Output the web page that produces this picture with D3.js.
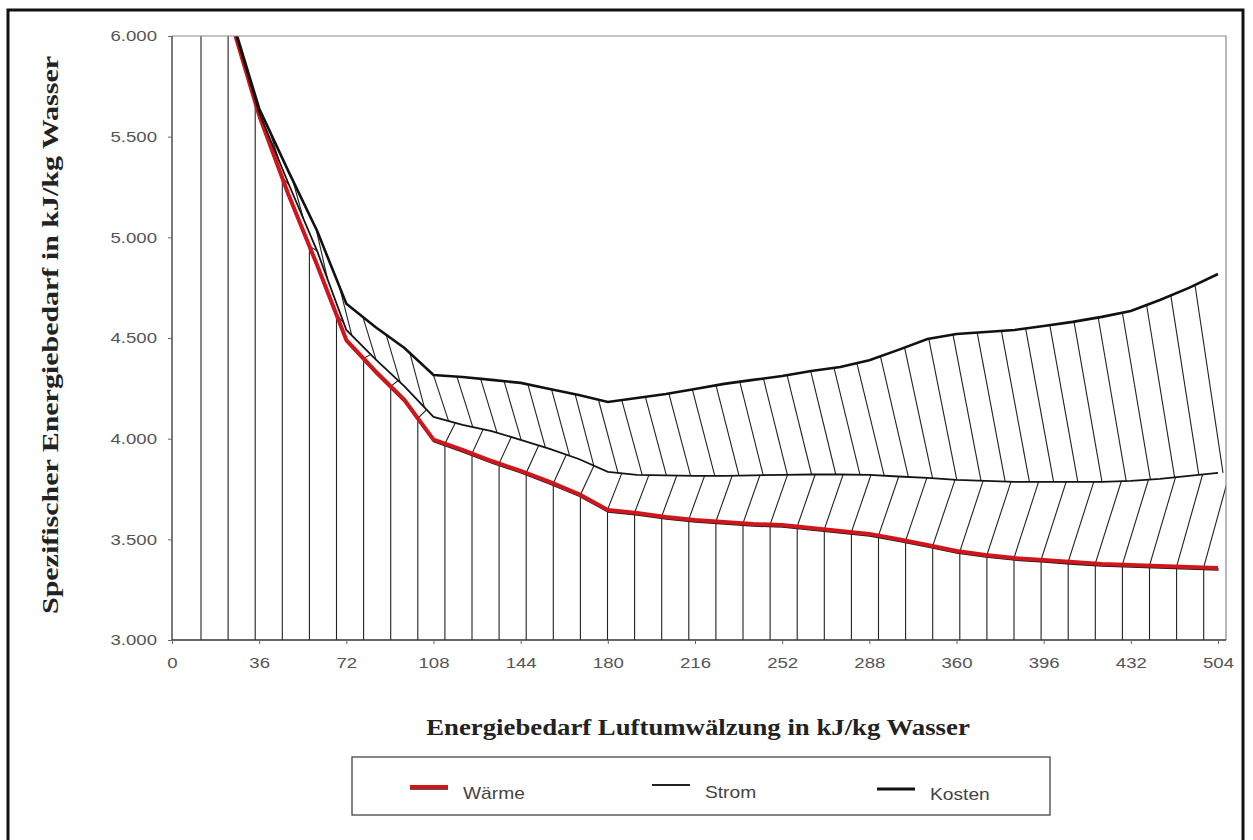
<!DOCTYPE html>
<html>
<head>
<meta charset="utf-8">
<script src="https://cdn.jsdelivr.net/npm/d3@7"></script>
<style>
  body { margin: 0; background: #fff; }
  svg { display: block; }
  .tick-label { font-family: "Liberation Sans", Arial, sans-serif; font-size: 15.5px; fill: #555; }
  .title { font-family: "Liberation Serif", "Times New Roman", serif; font-weight: bold; fill: #222; }
  .legend-label { font-family: "Liberation Sans", Arial, sans-serif; font-size: 16px; fill: #444; }
</style>
</head>
<body>
<div id="chart"></div>
<script>
/* Data ***********************************************************************/

// category labels along the x axis, one every 3 data points
var xTickLabels = ['0', '36', '72', '108', '144', '180', '216', '252',
                   '288', '360', '396', '432', '504'];
var pointsPerLabel = 3;

var yTicks = [3000, 3500, 4000, 4500, 5000, 5500, 6000];

// kJ/kg Wasser (first points lie above 6.000 and are cut off)
var waerme = [7300, 6650, 6090, 5605, 5215, 4860, 4490, 4335, 4192, 3995,
              3944, 3889, 3840, 3785, 3725, 3646, 3631, 3611, 3596, 3586,
              3576, 3571, 3556, 3541, 3527, 3500, 3472, 3442, 3422, 3407,
              3397, 3387, 3378, 3373, 3368, 3363, 3358];

var strom  = [7200, 6600, 6100, 5620, 5270, 4930, 4540, 4395, 4260, 4108,
              4068, 4038, 3994, 3949, 3899, 3835, 3820, 3818, 3815, 3815,
              3818, 3820, 3822, 3822, 3820, 3812, 3805, 3795, 3790, 3785,
              3785, 3785, 3785, 3790, 3800, 3815, 3830];

var kosten = [7400, 6750, 6115, 5640, 5330, 5030, 4670, 4555, 4450, 4316,
              4306, 4292, 4277, 4247, 4217, 4182, 4202, 4222, 4247, 4272,
              4292, 4311, 4336, 4356, 4390, 4441, 4495, 4520, 4530, 4540,
              4560, 4580, 4605, 4634, 4689, 4749, 4818];

var seriesNames = ['Wärme', 'Strom', 'Kosten'];

/* Layout *********************************************************************/

var width = 1253, height = 840;
var plot = { left: 172, right: 1226, top: 36, bottom: 640 },
    lastX = 1218;

var nPoints = waerme.length;

var x = d3.scaleLinear().domain([0, nPoints - 1]).range([plot.left, lastX]);
var y = d3.scaleLinear().domain([3000, 6000]).range([plot.bottom, plot.top]);

var de = d3.formatLocale({ decimal: ',', thousands: '.', grouping: [3], currency: ['', ' €'] });

var svg = d3.select('#chart').append('svg')
    .attr('width', width)
    .attr('height', height);

// outer frame
svg.append('rect')
    .attr('x', 8).attr('y', 10)
    .attr('width', 1235).attr('height', 850)
    .attr('fill', 'none')
    .attr('stroke', '#111')
    .attr('stroke-width', 3);

svg.append('clipPath').attr('id', 'clip')
  .append('rect')
    .attr('x', plot.left).attr('y', plot.top)
    .attr('width', plot.right - plot.left)
    .attr('height', plot.bottom - plot.top);

// value of a series at pixel position px (linear between data points)
function valueAt(series, px) {
    let t = Math.max(0, Math.min(nPoints - 1, x.invert(px))),
        i = Math.min(nPoints - 2, Math.floor(t)),
        f = t - i;
    return series[i] * (1 - f) + series[i + 1] * f;
}

/* Hatching *******************************************************************/

let hatch = svg.append('g')
    .attr('clip-path', 'url(#clip)')
    .attr('fill', 'none')
    .attr('stroke', '#222')
    .attr('stroke-width', 1.1);

let line = d3.line();

// vertical lines under Wärme, bending into "/" up to Strom
for (let hx = 201; hx <= lastX + 2; hx += 27.1) {
    let yw = y(valueAt(waerme, hx)),
        dy = yw - y(valueAt(strom, hx)),
        d1 = Math.min(26, 4 + 0.27 * dy),
        pts = [[hx, plot.bottom], [hx, yw]];
    if (dy > 1)
        pts.push([hx + d1, y(valueAt(strom, hx + d1))]);
    hatch.append('path').attr('d', line(pts));
}

// "\" lines between Strom and Kosten
for (let xb = 255; xb <= plot.right + 4; xb += 24.2) {
    let ys = y(valueAt(strom, xb)),
        dy = ys - y(valueAt(kosten, xb));
    if (dy < 2) continue;
    let d2 = Math.min(28, 8 + 0.16 * dy),
        xt = xb - d2;
    hatch.append('path')
        .attr('d', line([[xb, ys], [xt, y(valueAt(kosten, xt))]]));
}

/* Series lines ***************************************************************/

let lines = svg.append('g').attr('clip-path', 'url(#clip)').attr('fill', 'none');
let path = d3.line().x((d, i) => x(i)).y(d => y(d));

lines.append('path')
    .attr('d', path(waerme))
    .attr('transform', 'translate(0.5,1.5)')
    .attr('stroke', '#1a1a1a').attr('stroke-width', 2.6);
lines.append('path')
    .attr('d', path(waerme))
    .attr('stroke', '#d0151d').attr('stroke-width', 4)
    .attr('stroke-linejoin', 'round');
lines.append('path')
    .attr('d', path(strom))
    .attr('stroke', '#151515').attr('stroke-width', 1.8);
lines.append('path')
    .attr('d', path(kosten))
    .attr('stroke', '#111').attr('stroke-width', 2.6);

/* Plot frame & axes **********************************************************/

svg.append('path')
    .attr('d', line([[plot.left, plot.top], [plot.right, plot.top], [plot.right, plot.bottom]]))
    .attr('fill', 'none').attr('stroke', '#8a8a8a').attr('stroke-width', 1.2);

let yaxis = svg.append('g')
    .attr('transform', `translate(${plot.left},0)`)
    .call(d3.axisLeft(y).tickValues(yTicks).tickSize(4).tickPadding(8.5)
          .tickFormat(de.format(',')));

let xaxis = svg.append('g')
    .attr('transform', `translate(0,${plot.bottom})`)
    .call(d3.axisBottom(x)
          .tickValues(d3.range(0, nPoints, pointsPerLabel))
          .tickSize(4).tickPadding(13)
          .tickFormat((d, i) => xTickLabels[i]));

[yaxis, xaxis].forEach(ax => {
    ax.select('.domain').attr('stroke', '#333').attr('stroke-width', 1.3);
    ax.selectAll('.tick line').attr('stroke', '#666');
    ax.selectAll('.tick text')
        .attr('class', 'tick-label')
        .attr('font-family', null).attr('font-size', null)
        .attr('transform', 'scale(1.2,1)');
});
xaxis.select('.domain').attr('d', `M${plot.left},0H${plot.right}`);
yaxis.select('.domain').attr('d', `M0,${plot.top}V${plot.bottom}`);

/* Titles *********************************************************************/

svg.append('text')
    .attr('class', 'title')
    .attr('x', 698 / 1.2).attr('y', 735)
    .attr('font-size', 22.3)
    .attr('text-anchor', 'middle')
    .attr('transform', 'scale(1.2,1)')
    .text('Energiebedarf Luftumwälzung in kJ/kg Wasser');

svg.append('text')
    .attr('class', 'title')
    .attr('font-size', 24)
    .attr('text-anchor', 'middle')
    .attr('textLength', 558)
    .attr('lengthAdjust', 'spacingAndGlyphs')
    .attr('transform', 'translate(58,335) rotate(-90)')
    .text('Spezifischer Energiebedarf in kJ/kg Wasser');

/* Legend *********************************************************************/

let legend = svg.append('g');
legend.append('rect')
    .attr('x', 352).attr('y', 757)
    .attr('width', 698).attr('height', 58)
    .attr('fill', 'none').attr('stroke', '#444').attr('stroke-width', 1.3);

let legendX = [410, 652, 877],
    legendY = [787, 785, 789],
    legendStroke = ['#d0151d', '#222', '#111'],
    legendWidth = [4, 1.8, 2.8];

seriesNames.forEach((name, i) => {
    let g = legend.append('g').attr('transform', `translate(${legendX[i]},${legendY[i]})`);
    if (i == 0)
        g.append('path').attr('d', 'M0,1.5H38').attr('stroke', '#222').attr('stroke-width', 2.5);
    g.append('path').attr('d', 'M0,0H38')
        .attr('stroke', legendStroke[i]).attr('stroke-width', legendWidth[i]);
    g.append('text')
        .attr('class', 'legend-label')
        .attr('x', 53 / 1.2).attr('y', 12 - (legendY[i] - 787) * 0.3)
        .attr('transform', 'scale(1.2,1)')
        .text(name);
});
</script>
</body>
</html>
